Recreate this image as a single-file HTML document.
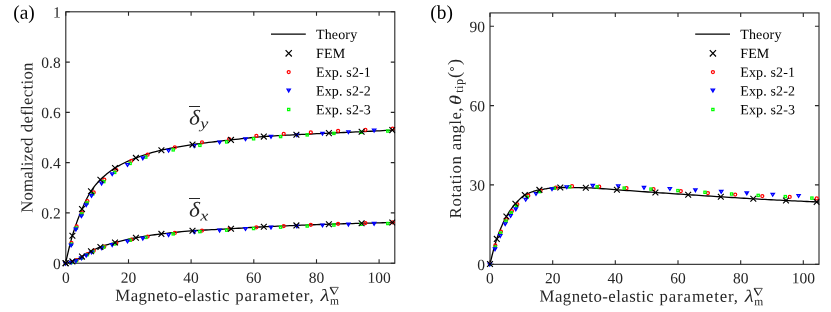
<!DOCTYPE html>
<html><head><meta charset="utf-8"><title>fig</title>
<style>
html,body{margin:0;padding:0;background:#fff;}
body{width:831px;height:312px;position:relative;overflow:hidden;font-family:"Liberation Serif",serif;color:#262626;}
.t{position:absolute;white-space:nowrap;line-height:1;}
#wrap{position:absolute;left:0;top:0;width:831px;height:312px;will-change:transform;transform:translateZ(0);}
.t span.b{position:relative;display:inline-block;line-height:1;}
</style></head><body><div id="wrap">
<svg width="831" height="312" viewBox="0 0 831 312" style="position:absolute;left:0;top:0">
<rect width="831" height="312" fill="#fff"/>
<rect x="65.8" y="11.8" width="329.0" height="251.4" fill="none" stroke="#262626" stroke-width="1.1"/>
<path d="M65.8,263.2v-4.0M65.8,11.8v4.0M128.5,263.2v-4.0M128.5,11.8v4.0M191.1,263.2v-4.0M191.1,11.8v4.0M253.8,263.2v-4.0M253.8,11.8v4.0M316.5,263.2v-4.0M316.5,11.8v4.0M379.1,263.2v-4.0M379.1,11.8v4.0M65.8,263.2h4.0M394.8,263.2h-4.0M65.8,212.9h4.0M394.8,212.9h-4.0M65.8,162.6h4.0M394.8,162.6h-4.0M65.8,112.4h4.0M394.8,112.4h-4.0M65.8,62.1h4.0M394.8,62.1h-4.0M65.8,11.8h4.0M394.8,11.8h-4.0" stroke="#262626" stroke-width="1.1" fill="none"/>
<rect x="490.0" y="12.93" width="329.0" height="251.4" fill="none" stroke="#262626" stroke-width="1.1"/>
<path d="M490.0,264.33v-4.0M490.0,12.93v4.0M552.7,264.33v-4.0M552.7,12.93v4.0M615.3,264.33v-4.0M615.3,12.93v4.0M678.0,264.33v-4.0M678.0,12.93v4.0M740.7,264.33v-4.0M740.7,12.93v4.0M803.3,264.33v-4.0M803.3,12.93v4.0M490.0,264.3h4.0M818.95,264.3h-4.0M490.0,184.9h4.0M818.95,184.9h-4.0M490.0,105.6h4.0M818.95,105.6h-4.0M490.0,26.2h4.0M818.95,26.2h-4.0" stroke="#262626" stroke-width="1.1" fill="none"/>
<defs><clipPath id="ca"><rect x="61.8" y="11.8" width="333.5" height="255.4"/></clipPath><clipPath id="cb"><rect x="486.0" y="12.93" width="333.5" height="255.4"/></clipPath></defs>
<g clip-path="url(#ca)">
<polyline points="65.60,263.20 66.60,258.68 67.60,254.29 68.60,250.04 69.60,245.97 70.60,242.09 71.60,238.44 72.60,235.04 73.60,231.81 74.60,228.70 75.60,225.72 76.60,222.85 77.60,220.09 78.60,217.44 79.60,214.88 80.60,212.41 81.60,210.03 82.60,207.72 83.60,205.46 84.60,203.25 85.60,201.11 86.60,199.05 87.60,197.08 88.60,195.21 89.60,193.45 90.60,191.82 91.60,190.30 92.60,188.86 93.60,187.49 94.60,186.19 95.60,184.94 96.60,183.76 97.60,182.62 98.60,181.54 99.60,180.50 100.60,179.50 101.60,178.54 102.60,177.60 103.60,176.68 104.60,175.78 105.60,174.91 106.60,174.07 107.60,173.25 108.60,172.46 109.60,171.69 110.60,170.95 111.60,170.24 112.60,169.55 113.60,168.88 114.60,168.25 115.60,167.64 116.60,167.04 117.60,166.46 118.60,165.89 119.60,165.33 120.60,164.79 121.60,164.26 122.60,163.74 123.60,163.23 124.60,162.74 125.60,162.26 127.60,161.33 130.60,160.01 133.60,158.78 136.61,157.64 139.61,156.55 142.61,155.51 145.61,154.53 148.62,153.59 151.62,152.71 154.62,151.88 157.62,151.10 160.62,150.38 163.63,149.70 166.63,149.06 169.63,148.45 172.63,147.87 175.64,147.32 178.64,146.79 181.64,146.28 184.64,145.80 187.64,145.33 190.65,144.87 193.65,144.43 196.65,144.01 199.65,143.60 202.66,143.20 205.66,142.82 208.66,142.45 211.66,142.08 214.67,141.73 217.67,141.39 220.67,141.04 223.67,140.71 226.67,140.38 229.68,140.05 232.68,139.71 235.68,139.38 238.68,139.05 241.69,138.72 244.69,138.39 247.69,138.07 250.69,137.76 253.69,137.47 256.70,137.19 259.70,136.92 262.70,136.68 265.70,136.46 268.71,136.26 271.71,136.06 274.71,135.88 277.71,135.70 280.71,135.53 283.72,135.36 286.72,135.21 289.72,135.05 292.72,134.89 295.73,134.74 298.73,134.58 301.73,134.43 304.73,134.28 307.73,134.13 310.74,133.99 313.74,133.85 316.74,133.71 319.74,133.57 322.75,133.43 325.75,133.29 328.75,133.16 331.75,133.02 334.76,132.89 337.76,132.76 340.76,132.63 343.76,132.50 346.76,132.37 349.77,132.24 352.77,132.11 355.77,131.97 358.77,131.83 361.78,131.69 364.78,131.55 367.78,131.40 370.78,131.25 373.78,131.09 376.79,130.94 379.79,130.78 382.79,130.62 385.79,130.46 388.80,130.29 391.80,130.13 394.80,129.96" fill="none" stroke="#000" stroke-width="1.3" stroke-linejoin="round"/>
<polyline points="65.60,263.20 66.60,263.02 67.60,262.80 68.60,262.55 69.60,262.28 70.60,261.98 71.60,261.67 72.60,261.33 73.60,260.95 74.60,260.53 75.60,260.06 76.60,259.56 77.60,259.03 78.60,258.49 79.60,257.93 80.60,257.37 81.60,256.82 82.60,256.26 83.60,255.68 84.60,255.06 85.60,254.43 86.60,253.80 87.60,253.17 88.60,252.55 89.60,251.96 90.60,251.41 91.60,250.89 92.60,250.40 93.60,249.91 94.60,249.44 95.60,248.98 96.60,248.53 97.60,248.11 98.60,247.70 99.60,247.30 100.60,246.93 101.60,246.56 102.60,246.21 103.60,245.87 104.60,245.54 105.60,245.21 106.60,244.90 107.60,244.59 108.60,244.29 109.60,244.00 110.60,243.71 111.60,243.43 112.60,243.15 113.60,242.88 114.60,242.61 115.60,242.34 116.60,242.08 117.60,241.82 118.60,241.56 119.60,241.31 120.60,241.05 121.60,240.81 122.60,240.56 123.60,240.32 124.60,240.08 125.60,239.85 127.60,239.39 130.60,238.74 133.60,238.13 136.61,237.57 139.61,237.04 142.61,236.54 145.61,236.06 148.62,235.61 151.62,235.17 154.62,234.76 157.62,234.37 160.62,233.99 163.63,233.63 166.63,233.28 169.63,232.94 172.63,232.61 175.64,232.29 178.64,231.99 181.64,231.70 184.64,231.43 187.64,231.17 190.65,230.94 193.65,230.72 196.65,230.52 199.65,230.33 202.66,230.16 205.66,229.99 208.66,229.83 211.66,229.68 214.67,229.53 217.67,229.39 220.67,229.24 223.67,229.09 226.67,228.93 229.68,228.77 232.68,228.60 235.68,228.43 238.68,228.25 241.69,228.07 244.69,227.89 247.69,227.70 250.69,227.52 253.69,227.35 256.70,227.18 259.70,227.01 262.70,226.85 265.70,226.71 268.71,226.56 271.71,226.43 274.71,226.29 277.71,226.16 280.71,226.03 283.72,225.91 286.72,225.79 289.72,225.67 292.72,225.55 295.73,225.43 298.73,225.31 301.73,225.19 304.73,225.07 307.73,224.95 310.74,224.84 313.74,224.73 316.74,224.62 319.74,224.51 322.75,224.40 325.75,224.30 328.75,224.20 331.75,224.11 334.76,224.02 337.76,223.94 340.76,223.85 343.76,223.77 346.76,223.69 349.77,223.61 352.77,223.53 355.77,223.45 358.77,223.38 361.78,223.30 364.78,223.22 367.78,223.14 370.78,223.06 373.78,222.98 376.79,222.90 379.79,222.82 382.79,222.74 385.79,222.67 388.80,222.59 391.80,222.51 394.80,222.44" fill="none" stroke="#000" stroke-width="1.3" stroke-linejoin="round"/>
<circle cx="65.5" cy="263.0" r="1.5" stroke="#f00" stroke-width="1.25" fill="none"/>
<rect x="64.40" y="262.20" width="2.2" height="2.2" stroke="#0f0" stroke-width="1.25" fill="none"/>
<path d="M63.9,262.3L67.2,262.3L65.5,265.0Z" stroke="#00f" stroke-width="1.3" fill="none" stroke-linejoin="miter"/>
<circle cx="71.4" cy="242.8" r="1.5" stroke="#f00" stroke-width="1.25" fill="none"/>
<circle cx="76.6" cy="226.4" r="1.5" stroke="#f00" stroke-width="1.25" fill="none"/>
<circle cx="81.9" cy="212.3" r="1.5" stroke="#f00" stroke-width="1.25" fill="none"/>
<circle cx="87.4" cy="201.2" r="1.5" stroke="#f00" stroke-width="1.25" fill="none"/>
<circle cx="93.7" cy="192.4" r="1.5" stroke="#f00" stroke-width="1.25" fill="none"/>
<circle cx="104.3" cy="179.6" r="1.5" stroke="#f00" stroke-width="1.25" fill="none"/>
<circle cx="116.3" cy="170.0" r="1.5" stroke="#f00" stroke-width="1.25" fill="none"/>
<circle cx="131.3" cy="160.8" r="1.5" stroke="#f00" stroke-width="1.25" fill="none"/>
<circle cx="147.6" cy="154.7" r="1.5" stroke="#f00" stroke-width="1.25" fill="none"/>
<circle cx="174.8" cy="147.4" r="1.5" stroke="#f00" stroke-width="1.25" fill="none"/>
<circle cx="202.0" cy="142.4" r="1.5" stroke="#f00" stroke-width="1.25" fill="none"/>
<circle cx="229.1" cy="139.0" r="1.5" stroke="#f00" stroke-width="1.25" fill="none"/>
<circle cx="256.4" cy="135.9" r="1.5" stroke="#f00" stroke-width="1.25" fill="none"/>
<circle cx="283.7" cy="133.9" r="1.5" stroke="#f00" stroke-width="1.25" fill="none"/>
<circle cx="310.8" cy="132.3" r="1.5" stroke="#f00" stroke-width="1.25" fill="none"/>
<circle cx="338.1" cy="130.8" r="1.5" stroke="#f00" stroke-width="1.25" fill="none"/>
<circle cx="365.4" cy="129.8" r="1.5" stroke="#f00" stroke-width="1.25" fill="none"/>
<circle cx="392.6" cy="128.5" r="1.5" stroke="#f00" stroke-width="1.25" fill="none"/>
<rect x="70.20" y="243.10" width="2.2" height="2.2" stroke="#0f0" stroke-width="1.25" fill="none"/>
<rect x="75.30" y="226.90" width="2.2" height="2.2" stroke="#0f0" stroke-width="1.25" fill="none"/>
<rect x="80.70" y="212.80" width="2.2" height="2.2" stroke="#0f0" stroke-width="1.25" fill="none"/>
<rect x="86.00" y="201.80" width="2.2" height="2.2" stroke="#0f0" stroke-width="1.25" fill="none"/>
<rect x="91.70" y="192.80" width="2.2" height="2.2" stroke="#0f0" stroke-width="1.25" fill="none"/>
<rect x="102.70" y="180.50" width="2.2" height="2.2" stroke="#0f0" stroke-width="1.25" fill="none"/>
<rect x="113.60" y="171.30" width="2.2" height="2.2" stroke="#0f0" stroke-width="1.25" fill="none"/>
<rect x="129.00" y="162.32" width="2.2" height="2.2" stroke="#0f0" stroke-width="1.25" fill="none"/>
<rect x="144.70" y="155.97" width="2.2" height="2.2" stroke="#0f0" stroke-width="1.25" fill="none"/>
<rect x="172.10" y="148.78" width="2.2" height="2.2" stroke="#0f0" stroke-width="1.25" fill="none"/>
<rect x="198.80" y="144.27" width="2.2" height="2.2" stroke="#0f0" stroke-width="1.25" fill="none"/>
<rect x="225.60" y="140.83" width="2.2" height="2.2" stroke="#0f0" stroke-width="1.25" fill="none"/>
<rect x="252.50" y="137.68" width="2.2" height="2.2" stroke="#0f0" stroke-width="1.25" fill="none"/>
<rect x="279.50" y="135.45" width="2.2" height="2.2" stroke="#0f0" stroke-width="1.25" fill="none"/>
<rect x="306.10" y="133.79" width="2.2" height="2.2" stroke="#0f0" stroke-width="1.25" fill="none"/>
<rect x="332.80" y="132.28" width="2.2" height="2.2" stroke="#0f0" stroke-width="1.25" fill="none"/>
<rect x="360.00" y="131.20" width="2.2" height="2.2" stroke="#0f0" stroke-width="1.25" fill="none"/>
<rect x="386.70" y="129.95" width="2.2" height="2.2" stroke="#0f0" stroke-width="1.25" fill="none"/>
<path d="M69.4,244.1L72.8,244.1L71.1,246.8Z" stroke="#00f" stroke-width="1.3" fill="none" stroke-linejoin="miter"/>
<path d="M74.2,228.2L77.5,228.2L75.9,230.9Z" stroke="#00f" stroke-width="1.3" fill="none" stroke-linejoin="miter"/>
<path d="M79.7,214.8L83.0,214.8L81.4,217.5Z" stroke="#00f" stroke-width="1.3" fill="none" stroke-linejoin="miter"/>
<path d="M84.5,203.9L87.8,203.9L86.2,206.6Z" stroke="#00f" stroke-width="1.3" fill="none" stroke-linejoin="miter"/>
<path d="M89.8,194.5L93.2,194.5L91.5,197.2Z" stroke="#00f" stroke-width="1.3" fill="none" stroke-linejoin="miter"/>
<path d="M99.9,182.2L103.2,182.2L101.6,184.9Z" stroke="#00f" stroke-width="1.3" fill="none" stroke-linejoin="miter"/>
<path d="M110.5,172.8L113.8,172.8L112.2,175.5Z" stroke="#00f" stroke-width="1.3" fill="none" stroke-linejoin="miter"/>
<path d="M125.8,163.6L129.2,163.6L127.5,166.3Z" stroke="#00f" stroke-width="1.3" fill="none" stroke-linejoin="miter"/>
<path d="M141.2,157.0L144.5,157.0L142.8,159.7Z" stroke="#00f" stroke-width="1.3" fill="none" stroke-linejoin="miter"/>
<path d="M166.9,149.3L170.2,149.3L168.6,152.0Z" stroke="#00f" stroke-width="1.3" fill="none" stroke-linejoin="miter"/>
<path d="M192.5,144.7L195.8,144.7L194.2,147.4Z" stroke="#00f" stroke-width="1.3" fill="none" stroke-linejoin="miter"/>
<path d="M217.9,141.1L221.2,141.1L219.6,143.8Z" stroke="#00f" stroke-width="1.3" fill="none" stroke-linejoin="miter"/>
<path d="M243.8,137.9L247.2,137.9L245.5,140.6Z" stroke="#00f" stroke-width="1.3" fill="none" stroke-linejoin="miter"/>
<path d="M269.4,135.4L272.6,135.4L271.0,138.1Z" stroke="#00f" stroke-width="1.3" fill="none" stroke-linejoin="miter"/>
<path d="M295.2,133.8L298.5,133.8L296.9,136.5Z" stroke="#00f" stroke-width="1.3" fill="none" stroke-linejoin="miter"/>
<path d="M320.9,132.3L324.1,132.3L322.5,135.0Z" stroke="#00f" stroke-width="1.3" fill="none" stroke-linejoin="miter"/>
<path d="M346.8,130.8L350.0,130.8L348.4,133.5Z" stroke="#00f" stroke-width="1.3" fill="none" stroke-linejoin="miter"/>
<path d="M372.5,129.2L375.8,129.2L374.1,131.9Z" stroke="#00f" stroke-width="1.3" fill="none" stroke-linejoin="miter"/>
<circle cx="71.4" cy="262.0" r="1.5" stroke="#f00" stroke-width="1.25" fill="none"/>
<circle cx="76.6" cy="260.2" r="1.5" stroke="#f00" stroke-width="1.25" fill="none"/>
<circle cx="81.9" cy="257.5" r="1.5" stroke="#f00" stroke-width="1.25" fill="none"/>
<circle cx="87.4" cy="254.1" r="1.5" stroke="#f00" stroke-width="1.25" fill="none"/>
<circle cx="93.7" cy="250.7" r="1.5" stroke="#f00" stroke-width="1.25" fill="none"/>
<circle cx="104.3" cy="246.5" r="1.5" stroke="#f00" stroke-width="1.25" fill="none"/>
<circle cx="116.3" cy="243.1" r="1.5" stroke="#f00" stroke-width="1.25" fill="none"/>
<circle cx="131.3" cy="239.6" r="1.5" stroke="#f00" stroke-width="1.25" fill="none"/>
<circle cx="147.6" cy="236.6" r="1.5" stroke="#f00" stroke-width="1.25" fill="none"/>
<circle cx="174.8" cy="232.9" r="1.5" stroke="#f00" stroke-width="1.25" fill="none"/>
<circle cx="202.0" cy="230.5" r="1.5" stroke="#f00" stroke-width="1.25" fill="none"/>
<circle cx="229.1" cy="229.0" r="1.5" stroke="#f00" stroke-width="1.25" fill="none"/>
<circle cx="256.4" cy="227.3" r="1.5" stroke="#f00" stroke-width="1.25" fill="none"/>
<circle cx="283.7" cy="226.0" r="1.5" stroke="#f00" stroke-width="1.25" fill="none"/>
<circle cx="310.8" cy="224.8" r="1.5" stroke="#f00" stroke-width="1.25" fill="none"/>
<circle cx="338.1" cy="223.8" r="1.5" stroke="#f00" stroke-width="1.25" fill="none"/>
<circle cx="365.4" cy="223.0" r="1.5" stroke="#f00" stroke-width="1.25" fill="none"/>
<circle cx="392.6" cy="222.3" r="1.5" stroke="#f00" stroke-width="1.25" fill="none"/>
<rect x="70.20" y="261.37" width="2.2" height="2.2" stroke="#0f0" stroke-width="1.25" fill="none"/>
<rect x="75.30" y="259.56" width="2.2" height="2.2" stroke="#0f0" stroke-width="1.25" fill="none"/>
<rect x="80.70" y="256.82" width="2.2" height="2.2" stroke="#0f0" stroke-width="1.25" fill="none"/>
<rect x="86.00" y="253.61" width="2.2" height="2.2" stroke="#0f0" stroke-width="1.25" fill="none"/>
<rect x="91.70" y="250.45" width="2.2" height="2.2" stroke="#0f0" stroke-width="1.25" fill="none"/>
<rect x="102.70" y="246.00" width="2.2" height="2.2" stroke="#0f0" stroke-width="1.25" fill="none"/>
<rect x="113.60" y="242.83" width="2.2" height="2.2" stroke="#0f0" stroke-width="1.25" fill="none"/>
<rect x="129.00" y="239.14" width="2.2" height="2.2" stroke="#0f0" stroke-width="1.25" fill="none"/>
<rect x="144.70" y="236.31" width="2.2" height="2.2" stroke="#0f0" stroke-width="1.25" fill="none"/>
<rect x="172.10" y="232.79" width="2.2" height="2.2" stroke="#0f0" stroke-width="1.25" fill="none"/>
<rect x="198.80" y="230.52" width="2.2" height="2.2" stroke="#0f0" stroke-width="1.25" fill="none"/>
<rect x="225.60" y="229.07" width="2.2" height="2.2" stroke="#0f0" stroke-width="1.25" fill="none"/>
<rect x="252.50" y="227.43" width="2.2" height="2.2" stroke="#0f0" stroke-width="1.25" fill="none"/>
<rect x="279.50" y="226.05" width="2.2" height="2.2" stroke="#0f0" stroke-width="1.25" fill="none"/>
<rect x="306.10" y="224.93" width="2.2" height="2.2" stroke="#0f0" stroke-width="1.25" fill="none"/>
<rect x="332.80" y="223.94" width="2.2" height="2.2" stroke="#0f0" stroke-width="1.25" fill="none"/>
<rect x="360.00" y="223.14" width="2.2" height="2.2" stroke="#0f0" stroke-width="1.25" fill="none"/>
<rect x="386.70" y="222.41" width="2.2" height="2.2" stroke="#0f0" stroke-width="1.25" fill="none"/>
<path d="M69.4,261.3L72.8,261.3L71.1,264.0Z" stroke="#00f" stroke-width="1.3" fill="none" stroke-linejoin="miter"/>
<path d="M74.2,259.7L77.5,259.7L75.9,262.4Z" stroke="#00f" stroke-width="1.3" fill="none" stroke-linejoin="miter"/>
<path d="M79.7,257.0L83.0,257.0L81.4,259.7Z" stroke="#00f" stroke-width="1.3" fill="none" stroke-linejoin="miter"/>
<path d="M84.5,254.2L87.8,254.2L86.2,256.9Z" stroke="#00f" stroke-width="1.3" fill="none" stroke-linejoin="miter"/>
<path d="M89.8,251.1L93.2,251.1L91.5,253.8Z" stroke="#00f" stroke-width="1.3" fill="none" stroke-linejoin="miter"/>
<path d="M99.9,246.9L103.2,246.9L101.6,249.6Z" stroke="#00f" stroke-width="1.3" fill="none" stroke-linejoin="miter"/>
<path d="M110.5,243.7L113.8,243.7L112.2,246.4Z" stroke="#00f" stroke-width="1.3" fill="none" stroke-linejoin="miter"/>
<path d="M125.8,240.1L129.2,240.1L127.5,242.8Z" stroke="#00f" stroke-width="1.3" fill="none" stroke-linejoin="miter"/>
<path d="M141.2,237.2L144.5,237.2L142.8,239.9Z" stroke="#00f" stroke-width="1.3" fill="none" stroke-linejoin="miter"/>
<path d="M166.9,233.7L170.2,233.7L168.6,236.4Z" stroke="#00f" stroke-width="1.3" fill="none" stroke-linejoin="miter"/>
<path d="M192.5,230.9L195.8,230.9L194.2,233.6Z" stroke="#00f" stroke-width="1.3" fill="none" stroke-linejoin="miter"/>
<path d="M217.9,229.2L221.2,229.2L219.6,231.9Z" stroke="#00f" stroke-width="1.3" fill="none" stroke-linejoin="miter"/>
<path d="M243.8,227.6L247.2,227.6L245.5,230.3Z" stroke="#00f" stroke-width="1.3" fill="none" stroke-linejoin="miter"/>
<path d="M269.4,226.2L272.6,226.2L271.0,228.9Z" stroke="#00f" stroke-width="1.3" fill="none" stroke-linejoin="miter"/>
<path d="M295.2,225.1L298.5,225.1L296.9,227.8Z" stroke="#00f" stroke-width="1.3" fill="none" stroke-linejoin="miter"/>
<path d="M320.9,224.1L324.1,224.1L322.5,226.8Z" stroke="#00f" stroke-width="1.3" fill="none" stroke-linejoin="miter"/>
<path d="M346.8,223.2L350.0,223.2L348.4,225.9Z" stroke="#00f" stroke-width="1.3" fill="none" stroke-linejoin="miter"/>
<path d="M372.5,222.5L375.8,222.5L374.1,225.2Z" stroke="#00f" stroke-width="1.3" fill="none" stroke-linejoin="miter"/>
<path d="M62.7,260.3L68.5,266.1M62.7,266.1L68.5,260.3" stroke="#000" stroke-width="1.15" fill="none"/>
<path d="M69.5,232.8L75.3,238.6M69.5,238.6L75.3,232.8" stroke="#000" stroke-width="1.15" fill="none"/>
<path d="M79.1,206.2L84.9,212.0M79.1,212.0L84.9,206.2" stroke="#000" stroke-width="1.15" fill="none"/>
<path d="M88.1,188.3L93.9,194.1M88.1,194.1L93.9,188.3" stroke="#000" stroke-width="1.15" fill="none"/>
<path d="M97.5,176.8L103.3,182.6M97.5,182.6L103.3,176.8" stroke="#000" stroke-width="1.15" fill="none"/>
<path d="M112.1,165.1L117.9,170.9M112.1,170.9L117.9,165.1" stroke="#000" stroke-width="1.15" fill="none"/>
<path d="M133.0,155.0L138.8,160.8M133.0,160.8L138.8,155.0" stroke="#000" stroke-width="1.15" fill="none"/>
<path d="M158.5,147.3L164.3,153.1M158.5,153.1L164.3,147.3" stroke="#000" stroke-width="1.15" fill="none"/>
<path d="M189.6,141.7L195.4,147.5M189.6,147.5L195.4,141.7" stroke="#000" stroke-width="1.15" fill="none"/>
<path d="M228.1,137.0L233.9,142.8M228.1,142.8L233.9,137.0" stroke="#000" stroke-width="1.15" fill="none"/>
<path d="M260.9,133.7L266.7,139.5M260.9,139.5L266.7,133.7" stroke="#000" stroke-width="1.15" fill="none"/>
<path d="M293.5,131.8L299.3,137.6M293.5,137.6L299.3,131.8" stroke="#000" stroke-width="1.15" fill="none"/>
<path d="M326.0,130.2L331.8,136.1M326.0,136.1L331.8,130.2" stroke="#000" stroke-width="1.15" fill="none"/>
<path d="M358.7,128.8L364.5,134.6M358.7,134.6L364.5,128.8" stroke="#000" stroke-width="1.15" fill="none"/>
<path d="M389.4,127.2L395.2,133.0M389.4,133.0L395.2,127.2" stroke="#000" stroke-width="1.15" fill="none"/>
<path d="M62.7,260.3L68.5,266.1M62.7,266.1L68.5,260.3" stroke="#000" stroke-width="1.15" fill="none"/>
<path d="M69.5,258.5L75.3,264.3M69.5,264.3L75.3,258.5" stroke="#000" stroke-width="1.15" fill="none"/>
<path d="M79.1,253.7L84.9,259.5M79.1,259.5L84.9,253.7" stroke="#000" stroke-width="1.15" fill="none"/>
<path d="M88.1,248.3L93.9,254.1M88.1,254.1L93.9,248.3" stroke="#000" stroke-width="1.15" fill="none"/>
<path d="M97.5,244.1L103.3,249.9M97.5,249.9L103.3,244.1" stroke="#000" stroke-width="1.15" fill="none"/>
<path d="M112.1,239.6L117.9,245.4M112.1,245.4L117.9,239.6" stroke="#000" stroke-width="1.15" fill="none"/>
<path d="M133.0,234.8L138.8,240.6M133.0,240.6L138.8,234.8" stroke="#000" stroke-width="1.15" fill="none"/>
<path d="M158.5,231.0L164.3,236.8M158.5,236.8L164.3,231.0" stroke="#000" stroke-width="1.15" fill="none"/>
<path d="M189.6,227.9L195.4,233.7M189.6,233.7L195.4,227.9" stroke="#000" stroke-width="1.15" fill="none"/>
<path d="M228.1,225.8L233.9,231.6M228.1,231.6L233.9,225.8" stroke="#000" stroke-width="1.15" fill="none"/>
<path d="M260.9,223.9L266.7,229.7M260.9,229.7L266.7,223.9" stroke="#000" stroke-width="1.15" fill="none"/>
<path d="M293.5,222.5L299.3,228.3M293.5,228.3L299.3,222.5" stroke="#000" stroke-width="1.15" fill="none"/>
<path d="M326.0,221.3L331.8,227.1M326.0,227.1L331.8,221.3" stroke="#000" stroke-width="1.15" fill="none"/>
<path d="M358.7,220.4L364.5,226.2M358.7,226.2L364.5,220.4" stroke="#000" stroke-width="1.15" fill="none"/>
<path d="M389.4,219.6L395.2,225.4M389.4,225.4L395.2,219.6" stroke="#000" stroke-width="1.15" fill="none"/>
</g>
<g clip-path="url(#cb)">
<polyline points="490.00,264.00 491.00,259.80 492.00,255.73 493.00,251.81 494.00,248.08 495.00,244.57 496.00,241.31 497.00,238.32 498.00,235.51 499.00,232.81 500.00,230.22 501.00,227.75 502.00,225.40 503.00,223.17 504.00,221.06 505.00,219.08 506.00,217.21 507.00,215.46 508.00,213.80 509.00,212.22 510.00,210.72 511.00,209.30 512.00,207.94 513.00,206.65 514.00,205.42 515.00,204.25 516.00,203.13 517.00,202.02 518.00,200.92 519.00,199.87 520.00,198.86 521.00,197.91 522.00,197.03 523.00,196.25 524.00,195.56 525.00,194.99 526.00,194.48 527.00,193.99 528.00,193.52 529.00,193.08 530.00,192.66 531.00,192.26 532.00,191.89 533.00,191.55 534.00,191.22 535.00,190.92 536.00,190.65 537.00,190.40 538.00,190.17 539.00,189.97 540.00,189.79 541.00,189.62 542.00,189.44 543.00,189.27 544.00,189.10 545.00,188.94 546.00,188.78 547.00,188.63 548.00,188.48 549.00,188.34 550.00,188.21 552.00,187.98 555.00,187.71 558.00,187.54 561.00,187.50 564.00,187.51 567.00,187.53 570.00,187.55 573.00,187.59 576.00,187.63 578.99,187.68 581.99,187.73 584.99,187.78 587.99,187.86 590.99,187.97 593.99,188.12 596.99,188.31 599.99,188.51 602.99,188.74 605.99,188.97 608.99,189.21 611.99,189.45 614.99,189.67 617.99,189.87 620.99,190.08 623.99,190.28 626.99,190.49 629.99,190.70 632.98,190.92 635.98,191.13 638.98,191.34 641.98,191.56 644.98,191.77 647.98,191.98 650.98,192.19 653.98,192.40 656.98,192.61 659.98,192.81 662.98,193.02 665.98,193.22 668.98,193.42 671.98,193.62 674.98,193.82 677.98,194.02 680.98,194.22 683.98,194.42 686.97,194.62 689.97,194.82 692.97,195.01 695.97,195.21 698.97,195.40 701.97,195.60 704.97,195.79 707.97,195.98 710.97,196.18 713.97,196.37 716.97,196.56 719.97,196.75 722.97,196.94 725.97,197.13 728.97,197.32 731.97,197.51 734.97,197.70 737.97,197.88 740.96,198.07 743.96,198.25 746.96,198.43 749.96,198.61 752.96,198.78 755.96,198.95 758.96,199.11 761.96,199.28 764.96,199.44 767.96,199.59 770.96,199.75 773.96,199.90 776.96,200.05 779.96,200.20 782.96,200.35 785.96,200.50 788.96,200.64 791.96,200.79 794.95,200.93 797.95,201.07 800.95,201.21 803.95,201.34 806.95,201.48 809.95,201.61 812.95,201.74 815.95,201.87 818.95,202.00" fill="none" stroke="#000" stroke-width="1.3" stroke-linejoin="round"/>
<circle cx="489.8" cy="263.9" r="1.5" stroke="#f00" stroke-width="1.25" fill="none"/>
<circle cx="495.3" cy="245.4" r="1.5" stroke="#f00" stroke-width="1.25" fill="none"/>
<circle cx="500.9" cy="231.5" r="1.5" stroke="#f00" stroke-width="1.25" fill="none"/>
<circle cx="506.4" cy="219.4" r="1.5" stroke="#f00" stroke-width="1.25" fill="none"/>
<circle cx="511.9" cy="211.1" r="1.5" stroke="#f00" stroke-width="1.25" fill="none"/>
<circle cx="517.3" cy="204.3" r="1.5" stroke="#f00" stroke-width="1.25" fill="none"/>
<circle cx="528.3" cy="195.7" r="1.5" stroke="#f00" stroke-width="1.25" fill="none"/>
<circle cx="540.6" cy="190.5" r="1.5" stroke="#f00" stroke-width="1.25" fill="none"/>
<circle cx="555.9" cy="187.5" r="1.5" stroke="#f00" stroke-width="1.25" fill="none"/>
<circle cx="572.0" cy="186.2" r="1.5" stroke="#f00" stroke-width="1.25" fill="none"/>
<circle cx="599.2" cy="186.6" r="1.5" stroke="#f00" stroke-width="1.25" fill="none"/>
<circle cx="626.5" cy="188.1" r="1.5" stroke="#f00" stroke-width="1.25" fill="none"/>
<circle cx="653.5" cy="189.2" r="1.5" stroke="#f00" stroke-width="1.25" fill="none"/>
<circle cx="680.8" cy="191.1" r="1.5" stroke="#f00" stroke-width="1.25" fill="none"/>
<circle cx="707.9" cy="193.1" r="1.5" stroke="#f00" stroke-width="1.25" fill="none"/>
<circle cx="735.2" cy="194.5" r="1.5" stroke="#f00" stroke-width="1.25" fill="none"/>
<circle cx="762.3" cy="196.0" r="1.5" stroke="#f00" stroke-width="1.25" fill="none"/>
<circle cx="789.7" cy="196.9" r="1.5" stroke="#f00" stroke-width="1.25" fill="none"/>
<circle cx="816.7" cy="198.4" r="1.5" stroke="#f00" stroke-width="1.25" fill="none"/>
<rect x="488.70" y="263.20" width="2.2" height="2.2" stroke="#0f0" stroke-width="1.25" fill="none"/>
<rect x="494.20" y="246.00" width="2.2" height="2.2" stroke="#0f0" stroke-width="1.25" fill="none"/>
<rect x="499.60" y="232.00" width="2.2" height="2.2" stroke="#0f0" stroke-width="1.25" fill="none"/>
<rect x="505.00" y="220.00" width="2.2" height="2.2" stroke="#0f0" stroke-width="1.25" fill="none"/>
<rect x="510.20" y="211.70" width="2.2" height="2.2" stroke="#0f0" stroke-width="1.25" fill="none"/>
<rect x="515.40" y="204.90" width="2.2" height="2.2" stroke="#0f0" stroke-width="1.25" fill="none"/>
<rect x="526.10" y="196.10" width="2.2" height="2.2" stroke="#0f0" stroke-width="1.25" fill="none"/>
<rect x="538.40" y="190.50" width="2.2" height="2.2" stroke="#0f0" stroke-width="1.25" fill="none"/>
<rect x="553.20" y="187.20" width="2.2" height="2.2" stroke="#0f0" stroke-width="1.25" fill="none"/>
<rect x="568.60" y="185.70" width="2.2" height="2.2" stroke="#0f0" stroke-width="1.25" fill="none"/>
<rect x="596.10" y="185.70" width="2.2" height="2.2" stroke="#0f0" stroke-width="1.25" fill="none"/>
<rect x="623.10" y="187.00" width="2.2" height="2.2" stroke="#0f0" stroke-width="1.25" fill="none"/>
<rect x="649.90" y="188.00" width="2.2" height="2.2" stroke="#0f0" stroke-width="1.25" fill="none"/>
<rect x="676.80" y="189.50" width="2.2" height="2.2" stroke="#0f0" stroke-width="1.25" fill="none"/>
<rect x="703.90" y="191.20" width="2.2" height="2.2" stroke="#0f0" stroke-width="1.25" fill="none"/>
<rect x="730.50" y="192.90" width="2.2" height="2.2" stroke="#0f0" stroke-width="1.25" fill="none"/>
<rect x="757.10" y="194.30" width="2.2" height="2.2" stroke="#0f0" stroke-width="1.25" fill="none"/>
<rect x="784.20" y="195.50" width="2.2" height="2.2" stroke="#0f0" stroke-width="1.25" fill="none"/>
<rect x="810.80" y="197.00" width="2.2" height="2.2" stroke="#0f0" stroke-width="1.25" fill="none"/>
<path d="M488.2,263.2L491.4,263.2L489.8,265.9Z" stroke="#00f" stroke-width="1.3" fill="none" stroke-linejoin="miter"/>
<path d="M493.4,248.0L496.6,248.0L495.0,250.7Z" stroke="#00f" stroke-width="1.3" fill="none" stroke-linejoin="miter"/>
<path d="M498.6,234.7L501.8,234.7L500.2,237.4Z" stroke="#00f" stroke-width="1.3" fill="none" stroke-linejoin="miter"/>
<path d="M503.6,222.8L506.8,222.8L505.2,225.5Z" stroke="#00f" stroke-width="1.3" fill="none" stroke-linejoin="miter"/>
<path d="M509.0,214.6L512.2,214.6L510.6,217.3Z" stroke="#00f" stroke-width="1.3" fill="none" stroke-linejoin="miter"/>
<path d="M514.1,208.0L517.4,208.0L515.8,210.7Z" stroke="#00f" stroke-width="1.3" fill="none" stroke-linejoin="miter"/>
<path d="M524.1,198.3L527.4,198.3L525.7,201.0Z" stroke="#00f" stroke-width="1.3" fill="none" stroke-linejoin="miter"/>
<path d="M534.4,192.6L537.6,192.6L536.0,195.3Z" stroke="#00f" stroke-width="1.3" fill="none" stroke-linejoin="miter"/>
<path d="M550.4,187.8L553.6,187.8L552.0,190.5Z" stroke="#00f" stroke-width="1.3" fill="none" stroke-linejoin="miter"/>
<path d="M565.1,185.8L568.4,185.8L566.8,188.5Z" stroke="#00f" stroke-width="1.3" fill="none" stroke-linejoin="miter"/>
<path d="M591.1,184.5L594.4,184.5L592.8,187.2Z" stroke="#00f" stroke-width="1.3" fill="none" stroke-linejoin="miter"/>
<path d="M616.6,184.9L619.9,184.9L618.2,187.6Z" stroke="#00f" stroke-width="1.3" fill="none" stroke-linejoin="miter"/>
<path d="M642.4,186.4L645.6,186.4L644.0,189.1Z" stroke="#00f" stroke-width="1.3" fill="none" stroke-linejoin="miter"/>
<path d="M668.2,187.6L671.5,187.6L669.9,190.3Z" stroke="#00f" stroke-width="1.3" fill="none" stroke-linejoin="miter"/>
<path d="M693.8,189.0L697.0,189.0L695.4,191.7Z" stroke="#00f" stroke-width="1.3" fill="none" stroke-linejoin="miter"/>
<path d="M719.6,190.5L722.9,190.5L721.2,193.2Z" stroke="#00f" stroke-width="1.3" fill="none" stroke-linejoin="miter"/>
<path d="M745.1,192.0L748.4,192.0L746.8,194.7Z" stroke="#00f" stroke-width="1.3" fill="none" stroke-linejoin="miter"/>
<path d="M771.1,193.4L774.4,193.4L772.7,196.1Z" stroke="#00f" stroke-width="1.3" fill="none" stroke-linejoin="miter"/>
<path d="M797.0,194.6L800.2,194.6L798.6,197.3Z" stroke="#00f" stroke-width="1.3" fill="none" stroke-linejoin="miter"/>
<path d="M487.1,261.1L492.9,266.9M487.1,266.9L492.9,261.1" stroke="#000" stroke-width="1.15" fill="none"/>
<path d="M493.9,236.0L499.7,241.8M493.9,241.8L499.7,236.0" stroke="#000" stroke-width="1.15" fill="none"/>
<path d="M503.5,213.6L509.3,219.4M503.5,219.4L509.3,213.6" stroke="#000" stroke-width="1.15" fill="none"/>
<path d="M512.5,200.9L518.3,206.7M512.5,206.7L518.3,200.9" stroke="#000" stroke-width="1.15" fill="none"/>
<path d="M521.9,192.2L527.7,198.0M521.9,198.0L527.7,192.2" stroke="#000" stroke-width="1.15" fill="none"/>
<path d="M536.5,187.0L542.3,192.8M536.5,192.8L542.3,187.0" stroke="#000" stroke-width="1.15" fill="none"/>
<path d="M557.4,184.6L563.2,190.4M557.4,190.4L563.2,184.6" stroke="#000" stroke-width="1.15" fill="none"/>
<path d="M582.9,184.9L588.7,190.7M582.9,190.7L588.7,184.9" stroke="#000" stroke-width="1.15" fill="none"/>
<path d="M614.0,186.9L619.8,192.7M614.0,192.7L619.8,186.9" stroke="#000" stroke-width="1.15" fill="none"/>
<path d="M652.5,189.6L658.3,195.4M652.5,195.4L658.3,189.6" stroke="#000" stroke-width="1.15" fill="none"/>
<path d="M685.3,191.8L691.1,197.6M685.3,197.6L691.1,191.8" stroke="#000" stroke-width="1.15" fill="none"/>
<path d="M717.9,193.9L723.7,199.7M717.9,199.7L723.7,193.9" stroke="#000" stroke-width="1.15" fill="none"/>
<path d="M750.4,195.9L756.2,201.7M750.4,201.7L756.2,195.9" stroke="#000" stroke-width="1.15" fill="none"/>
<path d="M783.1,197.6L788.9,203.4M783.1,203.4L788.9,197.6" stroke="#000" stroke-width="1.15" fill="none"/>
<path d="M813.8,199.0L819.6,204.8M813.8,204.8L819.6,199.0" stroke="#000" stroke-width="1.15" fill="none"/>
</g>
<path d="M271.0,34.2H305.8" stroke="#000" stroke-width="1.3"/>
<path d="M285.6,50.2L291.8,56.5M285.6,56.5L291.8,50.2" stroke="#000" stroke-width="1.2" fill="none"/>
<circle cx="288.7" cy="72.0" r="1.5" stroke="#f00" stroke-width="1.25" fill="none"/>
<path d="M287.1,89.2L290.3,89.2L288.7,91.9Z" stroke="#00f" stroke-width="1.3" fill="none" stroke-linejoin="miter"/>
<rect x="287.60" y="108.40" width="2.2" height="2.2" stroke="#0f0" stroke-width="1.25" fill="none"/>
<path d="M695.2,34.2H730.0" stroke="#000" stroke-width="1.3"/>
<path d="M709.8,50.2L716.0,56.5M709.8,56.5L716.0,50.2" stroke="#000" stroke-width="1.2" fill="none"/>
<circle cx="712.9" cy="72.0" r="1.5" stroke="#f00" stroke-width="1.25" fill="none"/>
<path d="M711.2,89.2L714.5,89.2L712.9,91.9Z" stroke="#00f" stroke-width="1.3" fill="none" stroke-linejoin="miter"/>
<rect x="711.80" y="108.40" width="2.2" height="2.2" stroke="#0f0" stroke-width="1.25" fill="none"/>
</svg>
<div class="t" style="left:65px;top:269px;font-size:15.5px;transform:translate(0.8px,0.7px) translateX(-50%) rotate(0.03deg);">0</div>
<div class="t" style="left:490px;top:270px;font-size:15.5px;transform:translate(0.0px,0.3px) translateX(-50%) rotate(0.03deg);">0</div>
<div class="t" style="left:128px;top:269px;font-size:15.5px;transform:translate(0.5px,0.7px) translateX(-50%) rotate(0.03deg);">20</div>
<div class="t" style="left:552px;top:270px;font-size:15.5px;transform:translate(0.7px,0.3px) translateX(-50%) rotate(0.03deg);">20</div>
<div class="t" style="left:191px;top:269px;font-size:15.5px;transform:translate(0.1px,0.7px) translateX(-50%) rotate(0.03deg);">40</div>
<div class="t" style="left:615px;top:270px;font-size:15.5px;transform:translate(0.3px,0.3px) translateX(-50%) rotate(0.03deg);">40</div>
<div class="t" style="left:253px;top:269px;font-size:15.5px;transform:translate(0.8px,0.7px) translateX(-50%) rotate(0.03deg);">60</div>
<div class="t" style="left:678px;top:270px;font-size:15.5px;transform:translate(0.0px,0.3px) translateX(-50%) rotate(0.03deg);">60</div>
<div class="t" style="left:316px;top:269px;font-size:15.5px;transform:translate(0.5px,0.7px) translateX(-50%) rotate(0.03deg);">80</div>
<div class="t" style="left:740px;top:270px;font-size:15.5px;transform:translate(0.7px,0.3px) translateX(-50%) rotate(0.03deg);">80</div>
<div class="t" style="left:379px;top:269px;font-size:15.5px;transform:translate(0.1px,0.7px) translateX(-50%) rotate(0.03deg);">100</div>
<div class="t" style="left:803px;top:270px;font-size:15.5px;transform:translate(0.3px,0.3px) translateX(-50%) rotate(0.03deg);">100</div>
<div class="t" style="left:60px;top:255px;font-size:15.5px;transform:translate(0.7px,0.9px) translateX(-100%) rotate(0.03deg);">0</div>
<div class="t" style="left:60px;top:205px;font-size:15.5px;transform:translate(0.7px,0.6px) translateX(-100%) rotate(0.03deg);">0.2</div>
<div class="t" style="left:60px;top:155px;font-size:15.5px;transform:translate(0.7px,0.3px) translateX(-100%) rotate(0.03deg);">0.4</div>
<div class="t" style="left:60px;top:105px;font-size:15.5px;transform:translate(0.7px,0.1px) translateX(-100%) rotate(0.03deg);">0.6</div>
<div class="t" style="left:60px;top:54px;font-size:15.5px;transform:translate(0.7px,0.8px) translateX(-100%) rotate(0.03deg);">0.8</div>
<div class="t" style="left:60px;top:4px;font-size:15.5px;transform:translate(0.7px,0.5px) translateX(-100%) rotate(0.03deg);">1</div>
<div class="t" style="left:485px;top:257px;font-size:15.5px;transform:translate(0.0px,0.0px) translateX(-100%) rotate(0.03deg);">0</div>
<div class="t" style="left:485px;top:177px;font-size:15.5px;transform:translate(0.0px,0.6px) translateX(-100%) rotate(0.03deg);">30</div>
<div class="t" style="left:485px;top:98px;font-size:15.5px;transform:translate(0.0px,0.3px) translateX(-100%) rotate(0.03deg);">60</div>
<div class="t" style="left:485px;top:18px;font-size:15.5px;transform:translate(0.0px,0.9px) translateX(-100%) rotate(0.03deg);">90</div>
<div class="t" style="left:13px;top:2px;font-size:19.4px;transform:translate(0.3px,0.7px) rotate(0.03deg);color:#000;">(a)</div>
<div class="t" style="left:430px;top:2px;font-size:19.4px;transform:translate(0.3px,0.7px) rotate(0.03deg);color:#000;">(b)</div>
<div class="t" style="left:316px;top:27px;font-size:14px;transform:translate(0.0px,0.9px) rotate(0.03deg);color:#000;letter-spacing:0.15px;">Theory</div>
<div class="t" style="left:316px;top:47px;font-size:14px;transform:translate(0.0px,0.0px) rotate(0.03deg);color:#000;letter-spacing:0.15px;">FEM</div>
<div class="t" style="left:316px;top:65px;font-size:14px;transform:translate(0.0px,0.8px) rotate(0.03deg);color:#000;letter-spacing:0.15px;">Exp. s2-1</div>
<div class="t" style="left:316px;top:84px;font-size:14px;transform:translate(0.0px,0.5px) rotate(0.03deg);color:#000;letter-spacing:0.15px;">Exp. s2-2</div>
<div class="t" style="left:316px;top:103px;font-size:14px;transform:translate(0.0px,0.3px) rotate(0.03deg);color:#000;letter-spacing:0.15px;">Exp. s2-3</div>
<div class="t" style="left:740px;top:27px;font-size:14px;transform:translate(0.2px,0.9px) rotate(0.03deg);color:#000;letter-spacing:0.15px;">Theory</div>
<div class="t" style="left:740px;top:47px;font-size:14px;transform:translate(0.2px,0.0px) rotate(0.03deg);color:#000;letter-spacing:0.15px;">FEM</div>
<div class="t" style="left:740px;top:65px;font-size:14px;transform:translate(0.2px,0.8px) rotate(0.03deg);color:#000;letter-spacing:0.15px;">Exp. s2-1</div>
<div class="t" style="left:740px;top:84px;font-size:14px;transform:translate(0.2px,0.5px) rotate(0.03deg);color:#000;letter-spacing:0.15px;">Exp. s2-2</div>
<div class="t" style="left:740px;top:103px;font-size:14px;transform:translate(0.2px,0.3px) rotate(0.03deg);color:#000;letter-spacing:0.15px;">Exp. s2-3</div>
<div class="t" style="left:115px;top:287px;font-size:16.8px;transform:translate(0.3px,0.9px) rotate(0.03deg);letter-spacing:0.43px;">Magneto-elastic</div>
<div class="t" style="left:235px;top:287px;font-size:16.8px;transform:translate(0.2px,0.9px) rotate(0.03deg);letter-spacing:0.88px;">parameter,</div>
<div class="t" style="left:320px;top:286px;font-size:17.2px;transform:translate(0.4px,0.9px) rotate(0.03deg);"><span style="display:inline-block;font-style:italic;transform-origin:0 100%;transform:scaleX(1.2)">&lambda;</span></div>
<svg class="t" style="left:329.10px;top:285.90px;overflow:visible" width="10.5" height="9.7"><path d="M1.2,1.35H9.30L5.25,8.30Z" fill="none" stroke="#262626" stroke-width="0.75" stroke-linejoin="miter"/><path d="M1.3,1.35L5.25,8.30" fill="none" stroke="#262626" stroke-width="1.3"/></svg>
<div class="t" style="left:330px;top:295px;font-size:11.5px;transform:translate(0.0px,0.4px) rotate(0.03deg);">m</div>
<div class="t" style="left:539px;top:288px;font-size:16.8px;transform:translate(0.6px,0.65px) rotate(0.03deg);letter-spacing:0.43px;">Magneto-elastic</div>
<div class="t" style="left:659px;top:288px;font-size:16.8px;transform:translate(0.5px,0.65px) rotate(0.03deg);letter-spacing:0.88px;">parameter,</div>
<div class="t" style="left:744px;top:287px;font-size:17.2px;transform:translate(0.7px,0.65px) rotate(0.03deg);"><span style="display:inline-block;font-style:italic;transform-origin:0 100%;transform:scaleX(1.2)">&lambda;</span></div>
<svg class="t" style="left:753.40px;top:286.65px;overflow:visible" width="10.5" height="9.7"><path d="M1.2,1.35H9.30L5.25,8.30Z" fill="none" stroke="#262626" stroke-width="0.75" stroke-linejoin="miter"/><path d="M1.3,1.35L5.25,8.30" fill="none" stroke="#262626" stroke-width="1.3"/></svg>
<div class="t" style="left:754px;top:296px;font-size:11.5px;transform:translate(0.3px,0.15px) rotate(0.03deg);">m</div>
<div style="position:absolute;left:32px;top:212px;width:0;height:0;transform-origin:0 0;transform:translate(0.50px,0.80px) rotate(-90deg);"><div class="t" style="left:0px;top:-13px;font-size:16.8px;transform:translate(0.00px,0.00px) rotate(0.03deg);letter-spacing:0.2px;">Nomalized</div><div class="t" style="left:80px;top:-13px;font-size:16.8px;transform:translate(0.60px,0.00px) rotate(0.03deg);letter-spacing:0.29px;">deflection</div></div>
<div style="position:absolute;left:461px;top:218px;width:0;height:0;transform-origin:0 0;transform:translate(0.00px,0.40px) rotate(-90deg);"><div class="t" style="left:0px;top:-13px;font-size:16.8px;transform:translate(0.00px,0.00px) rotate(0.03deg);letter-spacing:0.63px;">Rotation</div><div class="t" style="left:68px;top:-13px;font-size:16.8px;transform:translate(0.20px,0.00px) rotate(0.03deg);letter-spacing:0.43px;">angle,</div><div class="t" style="left:113px;top:-13px;font-size:16.6px;transform:translate(0.40px,0.00px) rotate(0.03deg);"><span style="display:inline-block;font-style:italic;transform-origin:0 100%;transform:scaleX(1.22)">&theta;</span></div><div class="t" style="left:125px;top:-8px;font-size:12.3px;transform:translate(0.60px,0.10px) rotate(0.03deg);letter-spacing:0.45px;">tip</div><div class="t" style="left:140px;top:-16px;font-size:18px;transform:translate(0.40px,0.30px) rotate(0.03deg);">(</div><div class="t" style="left:153px;top:-16px;font-size:18px;transform:translate(0.40px,0.30px) rotate(0.03deg);">)</div></div>
<svg class="t" style="left:449px;top:65.5px" width="6" height="6"><circle cx="3" cy="3" r="1.6" fill="none" stroke="#262626" stroke-width="0.8"/></svg>
<div class="t" style="left:188px;top:107px;font-size:21px;transform:translate(0.9px,0.5px) rotate(0.03deg);"><span class="b" style="font-style:italic;transform-origin:0 100%;transform:scaleX(1.1) skewX(-1deg);">&delta;</span></div>
<div class="t" style="left:189.0px;top:106.2px;width:10.6px;height:0;border-top:1.1px solid #262626;"></div>
<div class="t" style="left:200px;top:116px;font-size:14.5px;transform:translate(0.3px,0.3px) rotate(0.03deg);"><span class="b" style="font-style:italic;transform-origin:0 100%;transform:scaleX(1.25);">y</span></div>
<div class="t" style="left:188px;top:199px;font-size:21px;transform:translate(0.9px,0.5px) rotate(0.03deg);"><span class="b" style="font-style:italic;transform-origin:0 100%;transform:scaleX(1.1) skewX(-1deg);">&delta;</span></div>
<div class="t" style="left:189.0px;top:198.2px;width:10.6px;height:0;border-top:1.1px solid #262626;"></div>
<div class="t" style="left:200px;top:208px;font-size:14.5px;transform:translate(0.3px,0.5px) rotate(0.03deg);"><span class="b" style="font-style:italic;transform-origin:0 100%;transform:scaleX(1.25);">x</span></div>
</div></body></html>
